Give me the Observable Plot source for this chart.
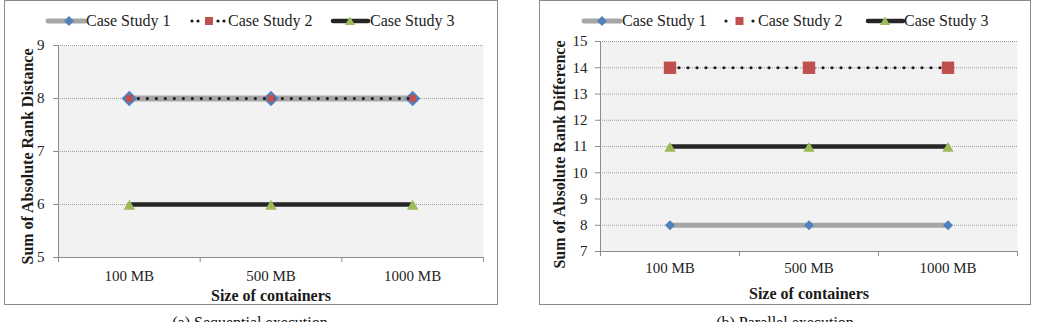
<!DOCTYPE html>
<html><head><meta charset="utf-8">
<script src="https://cdn.jsdelivr.net/npm/d3@7"></script>
<script src="https://cdn.jsdelivr.net/npm/@observablehq/plot@0.6"></script>
<style>
html,body{margin:0;padding:0;background:#fff;}
#root{position:relative;width:1044px;height:322px;overflow:hidden;background:#fff;font-family:"Liberation Serif","Times New Roman",serif;}
</style></head><body><div id="root"></div>
<script>
// ---- data ----
const categories = ["100 MB", "500 MB", "1000 MB"];
const seriesNames = ["Case Study 1", "Case Study 2", "Case Study 3"];
const seqCase1 = [8, 8, 8];
const seqCase2 = [8, 8, 8];
const seqCase3 = [6, 6, 6];
const parCase1 = [8, 8, 8];
const parCase2 = [14, 14, 14];
const parCase3 = [11, 11, 11];
const seqYTicks = [5, 6, 7, 8, 9];
const parYTicks = [7, 8, 9, 10, 11, 12, 13, 14, 15];
const seqYLabel = "Sum of Absolute Rank Distance";
const parYLabel = "Sum of Absolute Rank Difference";
const xLabel = "Size of containers";
const captions = ["(a) Sequential execution", "(b) Parallel execution"];

// ---- styles ----
const FONT = '"Liberation Serif","Times New Roman",serif';
const seriesStyles = [
  {stroke: "#a6a6a6", symbol: "diamond2", fill: "#4f81bd"},
  {stroke: "#1a1a1a", strokeWidth: 3.2, strokeDasharray: "0 9", symbol: "square", fill: "#c0504d"},
  {stroke: "#262626", strokeWidth: 4.5, symbol: "triangle2", fill: "#9bbb59", dy: 2}
];

const root = document.getElementById("root");

function makeChart(cfg) {
  const xDomain = [-0.5, categories.length - 0.5];
  const yDomain = d3.extent(cfg.yTicks);
  const marks = [
    Plot.frame({fill: "#f2f2f2", stroke: "none"}),
    Plot.gridY(cfg.yTicks, {stroke: "#a0a0a0", strokeOpacity: 1, strokeDasharray: "1,1"}),
    Plot.ruleX([xDomain[0]], {stroke: "#8c8c8c"}),
    Plot.ruleY([yDomain[0]], {stroke: "#8c8c8c"}),
    Plot.axisY(cfg.yTicks, {tickSize: 5, tickPadding: cfg.yTickPad, stroke: "#8c8c8c", label: null, tickFormat: d => String(d)}),
    Plot.axisX(d3.range(categories.length + 1).map(k => k - 0.5), {tickSize: 5, tickFormat: () => "", stroke: "#8c8c8c", label: null}),
    Plot.axisX(d3.range(categories.length), {tickSize: 0, tickPadding: cfg.xTickPad, tickFormat: i => categories[i], label: null}),
    Plot.text([cfg.yLabel], {frameAnchor: "left", textAnchor: "middle", lineAnchor: "middle", rotate: -90, dx: cfg.yTitleDx, dy: cfg.yTitleDy, fontWeight: "bold", fontSize: 16, fill: "#1a1a1a"}),
    Plot.text([xLabel], {frameAnchor: "bottom", textAnchor: "middle", lineAnchor: "bottom", dy: cfg.xTitleDy, fontWeight: "bold", fontSize: 16, fill: "#1a1a1a"})
  ];
  cfg.series.forEach((vals, s) => {
    const st = seriesStyles[s];
    const data = vals.map((v, i) => ({i, v}));
    marks.push(Plot.line(data, {
      x: "i", y: "v", stroke: st.stroke,
      strokeWidth: s === 0 ? cfg.cs1Width : st.strokeWidth,
      strokeDasharray: st.strokeDasharray, strokeLinecap: "round"
    }));
    marks.push(Plot.dot(data, {x: "i", y: "v", symbol: st.symbol, r: cfg.r[s], fill: st.fill, stroke: "none", dy: st.dy || 0}));
  });
  const svg = Plot.plot({
    width: cfg.width, height: cfg.height,
    marginTop: cfg.mt, marginRight: cfg.mr, marginBottom: cfg.mb, marginLeft: cfg.ml,
    x: {domain: xDomain, label: null},
    y: {domain: yDomain, label: null},
    style: {fontFamily: FONT, fontSize: "15px", color: "#222", background: "transparent", overflow: "visible"},
    marks
  });
  svg.style.position = "absolute";
  svg.style.left = cfg.left + "px";
  svg.style.top = cfg.top + "px";
  root.appendChild(svg);
}

makeChart({
  series: [seqCase1, seqCase2, seqCase3], yTicks: seqYTicks, yLabel: seqYLabel,
  left: 5, top: 30, width: 490, height: 272, mt: 15, mr: 12, mb: 45, ml: 53,
  yTickPad: 9, xTickPad: 13, xTitleDy: 43, yTitleDx: -31, yTitleDy: 5,
  cs1Width: 6, r: [7, 3.8, 5.5]
});
makeChart({
  series: [parCase1, parCase2, parCase3], yTicks: parYTicks, yLabel: parYLabel,
  left: 540, top: 26, width: 490, height: 276, mt: 15, mr: 13, mb: 51, ml: 60,
  yTickPad: 8, xTickPad: 11, xTitleDy: 47, yTitleDx: -41, yTitleDy: 8,
  cs1Width: 5, r: [4.5, 7, 5.4]
});

// ---- overlay: panel borders, legends, captions ----
const ov = d3.create("svg").attr("width", 1044).attr("height", 322)
  .style("position", "absolute").style("left", "0px").style("top", "0px").style("pointer-events", "none");
const panels = [{x0: 4.5, x1: 497.5, cx: 250}, {x0: 539.5, x1: 1030.5, cx: 785}];
panels.forEach((p, k) => {
  ov.append("rect").attr("x", p.x0).attr("y", 0.5).attr("width", p.x1 - p.x0).attr("height", 304)
    .attr("fill", "none").attr("stroke", "#8a8a8a");
  ov.append("text").attr("x", p.cx).attr("y", 328).attr("text-anchor", "middle")
    .attr("font-family", FONT).attr("font-size", 16).attr("fill", "#111").text(captions[k]);
});

const legendLayouts = [
  [{x0: 48, x1: 85, mx: 69, tx: 86}, {dots: [192, 198, 218, 224], mx: 209, tx: 228}, {x0: 333, x1: 368, mx: 350, tx: 370}],
  [{x0: 584, x1: 620, mx: 602, tx: 622}, {dots: [726, 753], mx: 739.5, tx: 758}, {x0: 868, x1: 903, mx: 885, tx: 904}]
];
const ly = 21;
legendLayouts.forEach(items => {
  items.forEach((it, s) => {
    const st = seriesStyles[s];
    if (it.dots) {
      it.dots.forEach(dx => ov.append("circle").attr("cx", dx).attr("cy", ly).attr("r", 1.6).attr("fill", st.stroke));
    } else {
      ov.append("line").attr("x1", it.x0).attr("x2", it.x1).attr("y1", ly).attr("y2", ly)
        .attr("stroke", st.stroke).attr("stroke-width", s === 0 ? 5 : 4.5).attr("stroke-linecap", "round");
    }
    if (s === 0) {
      ov.append("path").attr("d", `M${it.mx},${ly - 5}L${it.mx + 5},${ly}L${it.mx},${ly + 5}L${it.mx - 5},${ly}Z`).attr("fill", st.fill);
    } else if (s === 1) {
      ov.append("rect").attr("x", it.mx - 4).attr("y", ly - 4).attr("width", 8).attr("height", 8).attr("fill", st.fill);
    } else {
      ov.append("path").attr("d", `M${it.mx},${ly - 4.5}L${it.mx + 5},${ly + 4}L${it.mx - 5},${ly + 4}Z`).attr("fill", st.fill);
    }
    ov.append("text").attr("x", it.tx).attr("y", 26).attr("font-family", FONT).attr("font-size", 16)
      .attr("fill", "#222").text(seriesNames[s]);
  });
});
root.appendChild(ov.node());
</script>
</body></html>
